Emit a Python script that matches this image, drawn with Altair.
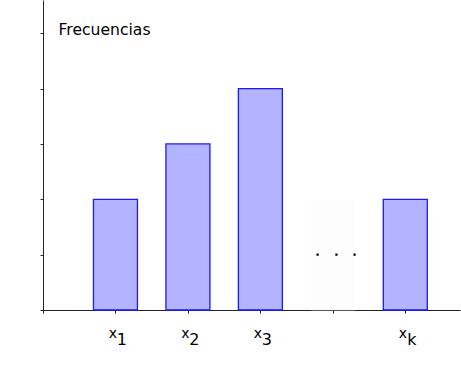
import json
import altair as alt
import pandas as pd

# ---- data ----
positions = [1, 2, 3, 5]
frequencies = [2, 3, 4, 2]
gap_position = [4]
gap_frequency = [2]
dots_x = [3.79, 4.05, 4.30]
dots_y = [1, 1, 1]
x_tick_values = [0, 1, 2, 3, 4, 5]
x_main_labels = ["", "x", "x", "x", "", "x"]
x_sub_labels = ["", "1", "2", "3", "", "k"]
y_tick_values = [0, 1, 2, 3, 4, 5]
y_title = "Frecuencias"
x_domain = [0, 5.755]
y_domain = [0, 5.6]

bars_df = pd.DataFrame({"pos": positions, "freq": frequencies})
gap_df = pd.DataFrame({"pos": gap_position, "freq": gap_frequency})
dots_df = pd.DataFrame({"pos": dots_x, "freq": dots_y})

FONT = "DejaVu Sans"
xscale = alt.Scale(domain=x_domain, nice=False, zero=False, padding=0)
yscale = alt.Scale(domain=y_domain, nice=False, padding=0)

main_x_axis = alt.Axis(
    orient="bottom", values=x_tick_values,
    labelExpr=json.dumps(x_main_labels) + "[datum.value]",
    labelFont=FONT, labelFontSize=14, labelColor="#000000",
    labelBaseline="alphabetic", labelPadding=24, labelOffset=-3,
    tickSize=3, tickColor="#222222", domainColor="#222222",
    grid=False, title=None, labelFlush=False, labelOverlap=False,
)
sub_x_axis = alt.Axis(
    orient="bottom", values=x_tick_values,
    labelExpr=json.dumps(x_sub_labels) + "[datum.value]",
    labelFont=FONT, labelFontSize=16, labelColor="#000000",
    labelBaseline="alphabetic", labelPadding=34, labelOffset=6,
    ticks=False, tickSize=3, domain=False,
    grid=False, title=None, labelFlush=False, labelOverlap=False,
)
y_axis = alt.Axis(
    values=y_tick_values, labels=False, grid=False,
    tickSize=3, tickColor="#222222", domainColor="#222222",
    title=y_title, titleAngle=0, titleAlign="left", titleBaseline="alphabetic",
    titleX=15, titleY=34, titleFont=FONT, titleFontSize=15.6,
    titleFontWeight="normal", titleColor="#000000",
)

gap = alt.Chart(gap_df).mark_bar(
    size=44, fill="#fdfdfd", stroke="#ffffff", strokeWidth=1, strokeOpacity=0.5
).encode(
    x=alt.X("pos:Q", scale=xscale, axis=main_x_axis),
    y=alt.Y("freq:Q", scale=yscale, axis=y_axis),
)

bars = alt.Chart(bars_df).mark_bar(
    size=44, fill="#b3b3ff", stroke="#1a1aff", strokeWidth=1.3
).encode(
    x=alt.X("pos:Q", scale=xscale, axis=None),
    y=alt.Y("freq:Q", scale=yscale, axis=None),
)

dots = alt.Chart(dots_df).mark_point(
    shape="square", filled=True, size=5, color="#000000", opacity=1
).encode(
    x=alt.X("pos:Q", scale=xscale, axis=sub_x_axis),
    y=alt.Y("freq:Q", scale=yscale, axis=None),
)

chart = alt.layer(gap, bars, dots).resolve_axis(
    x="independent", y="independent"
).properties(
    width=417, height=310,
    padding={"left": 43, "top": 0, "right": 1, "bottom": 62},
    autosize="none", background="#ffffff",
).configure_view(stroke=None)

chart.save("out.html", embed_options={"renderer": "svg", "actions": False})
